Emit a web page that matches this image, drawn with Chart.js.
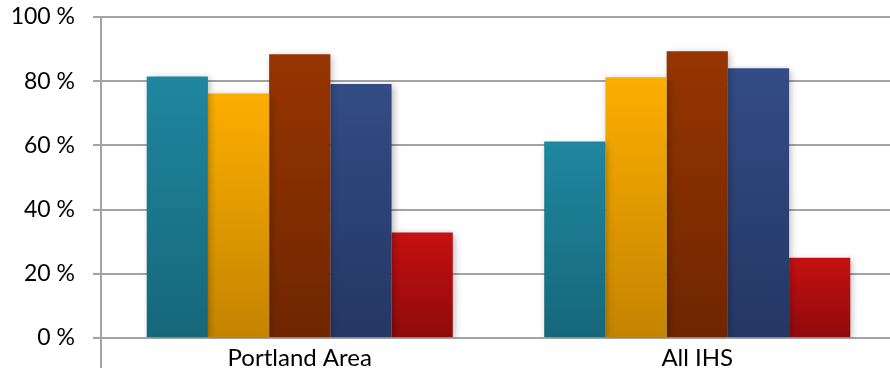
<!DOCTYPE html>
<html>
<head>
<meta charset="utf-8">
<script src="https://cdn.jsdelivr.net/npm/chart.js@4/dist/chart.umd.min.js"></script>
<style>
html,body{margin:0;padding:0;background:#fff;overflow:hidden;}
#wrap{width:896px;height:368px;position:relative;}
</style>
</head>
<body>
<div id="wrap"><canvas id="c" width="896" height="368"></canvas></div>
<script>
const categories = ["Portland Area", "All IHS"];
const series1 = [81.5, 61.2];
const series2 = [76.2, 81.2];
const series3 = [88.4, 89.3];
const series4 = [79.1, 84.0];
const series5 = [32.9, 25.0];
const yTicks = [0, 20, 40, 60, 80, 100];

const gradStops = [
  ["#1f87a0", "#166779"],
  ["#fcae00", "#c48400"],
  ["#963500", "#6f2600"],
  ["#344c85", "#243764"],
  ["#c51011", "#8f0a0b"]
];

function barGradient(idx) {
  return function(ctx) {
    const chart = ctx.chart;
    const y = chart.scales && chart.scales.y;
    if (!y || ctx.raw === undefined) return gradStops[idx][0];
    const top = y.getPixelForValue(ctx.raw);
    const base = y.getPixelForValue(0);
    if (!isFinite(top) || !isFinite(base) || top === base) return gradStops[idx][0];
    const g = chart.ctx.createLinearGradient(0, top, 0, base);
    g.addColorStop(0, gradStops[idx][0]);
    g.addColorStop(1, gradStops[idx][1]);
    return g;
  };
}

const allSeries = [series1, series2, series3, series4, series5];
const datasets = allSeries.map((d, i) => ({
  data: d,
  backgroundColor: barGradient(i),
  borderWidth: 0,
  categoryPercentage: 0.77,
  barPercentage: 1.0
}));

const shadowPlugin = {
  id: 'shadow',
  beforeDatasetsDraw(chart) {
    const c = chart.ctx;
    c.save();
    c.shadowColor = 'rgba(0,0,0,0.28)';
    c.shadowBlur = 7;
    c.shadowOffsetX = 2;
    c.shadowOffsetY = 2;
  },
  afterDatasetsDraw(chart) {
    chart.ctx.restore();
  }
};

const axisExt = {
  id: 'axisExt',
  afterDraw(chart) {
    const c = chart.ctx;
    const a = chart.chartArea;
    c.save();
    c.strokeStyle = '#a3a3a3';
    c.lineWidth = 2;
    c.beginPath();
    c.moveTo(a.left, a.bottom);
    c.lineTo(a.left, chart.height);
    c.stroke();
    c.restore();
  }
};

new Chart(document.getElementById('c'), {
  type: 'bar',
  data: { labels: categories, datasets },
  options: {
    responsive: false,
    animation: false,
    events: [],
    layout: { padding: { top: 17, right: 0, left: 0, bottom: 0 } },
    plugins: { legend: { display: false }, tooltip: { enabled: false } },
    scales: {
      x: {
        grid: { display: false },
        border: { display: false },
        ticks: {
          color: '#000',
          font: { family: 'Lato', size: 24 },
          padding: -2,
          maxRotation: 0
        },
        afterFit(s) { s.height = 30; s.paddingLeft = 0; s.paddingRight = 0; }
      },
      y: {
        min: 0, max: 100,
        afterBuildTicks(s) { s.ticks = yTicks.map(v => ({ value: v })); },
        grid: { color: '#a3a3a3', lineWidth: 2, tickLength: 8 },
        border: { display: true, color: '#a3a3a3', width: 2 },
        ticks: {
          color: '#000',
          font: { family: 'Lato', size: 23 },
          padding: 18,
          callback: v => v + ' %'
        },
        afterFit(s) { s.width = 101; s.paddingTop = 0; s.paddingBottom = 0; }
      }
    }
  },
  plugins: [shadowPlugin, axisExt]
});
</script>
</body>
</html>
